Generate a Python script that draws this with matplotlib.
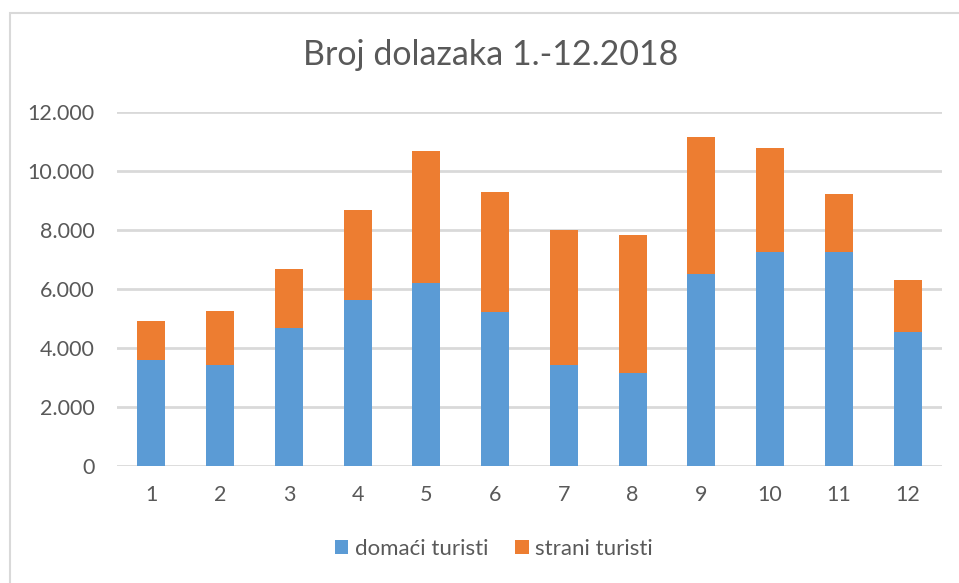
import matplotlib.pyplot as plt
from matplotlib.patches import Rectangle
import numpy as np

# Monthly arrivals 2018
months = ['1', '2', '3', '4', '5', '6', '7', '8', '9', '10', '11', '12']
domaci = [3610, 3410, 4670, 5620, 6190, 5210, 3410, 3140, 6520, 7250, 7250, 4540]
strani = [1320, 1860, 2020, 3070, 4500, 4090, 4600, 4700, 4640, 3540, 1980, 1780]
yticks = [0, 2000, 4000, 6000, 8000, 10000, 12000]
ytick_labels = ['0', '2.000', '4.000', '6.000', '8.000', '10.000', '12.000']

plt.rcParams['font.family'] = ['Lato', 'DejaVu Sans']
text_color = '#595959'

fig = plt.figure(figsize=(9.59, 5.83), dpi=100)
ax = fig.add_axes([117 / 959, 1 - 466 / 583, (942 - 117) / 959, (466 - 112) / 583])

x = np.arange(len(months))
ax.bar(x, domaci, width=0.41, color='#5B9BD5', label='domaći turisti', zorder=3)
ax.bar(x, strani, width=0.41, bottom=domaci, color='#ED7D31', label='strani turisti', zorder=3)

ax.set_xlim(-0.5, len(months) - 0.5)
ax.set_ylim(0, 12000)
ax.set_yticks(yticks)
ax.set_yticklabels(ytick_labels)
ax.set_xticks(x)
ax.set_xticklabels(months)
ax.yaxis.grid(True, color='#D9D9D9', linewidth=2)
for s in ax.spines.values():
    s.set_visible(False)
ax.tick_params(length=0, labelsize=15.5, colors=text_color)
ax.tick_params(axis='y', pad=16)
ax.tick_params(axis='x', pad=14)

fig.text(491 / 959, 1 - 55 / 583, 'Broj dolazaka 1.-12.2018', ha='center', va='center',
         fontsize=24.5, color=text_color)

ax.legend(loc='center', bbox_to_anchor=((494 - 117) / 825, (466 - 549) / 354), ncol=2, frameon=False,
          fontsize=16, labelcolor=text_color, handlelength=0.6, handleheight=0.6,
          handletextpad=0.3, columnspacing=1.2)

# light outer frame of the chart area
fig.patches.append(Rectangle((10 / 959, -0.1), 1.2, 1 - 13 / 583 + 0.1, transform=fig.transFigure,
                             fill=False, edgecolor='#D9D9D9', linewidth=1.5))

fig.savefig('out.png', dpi=100)
